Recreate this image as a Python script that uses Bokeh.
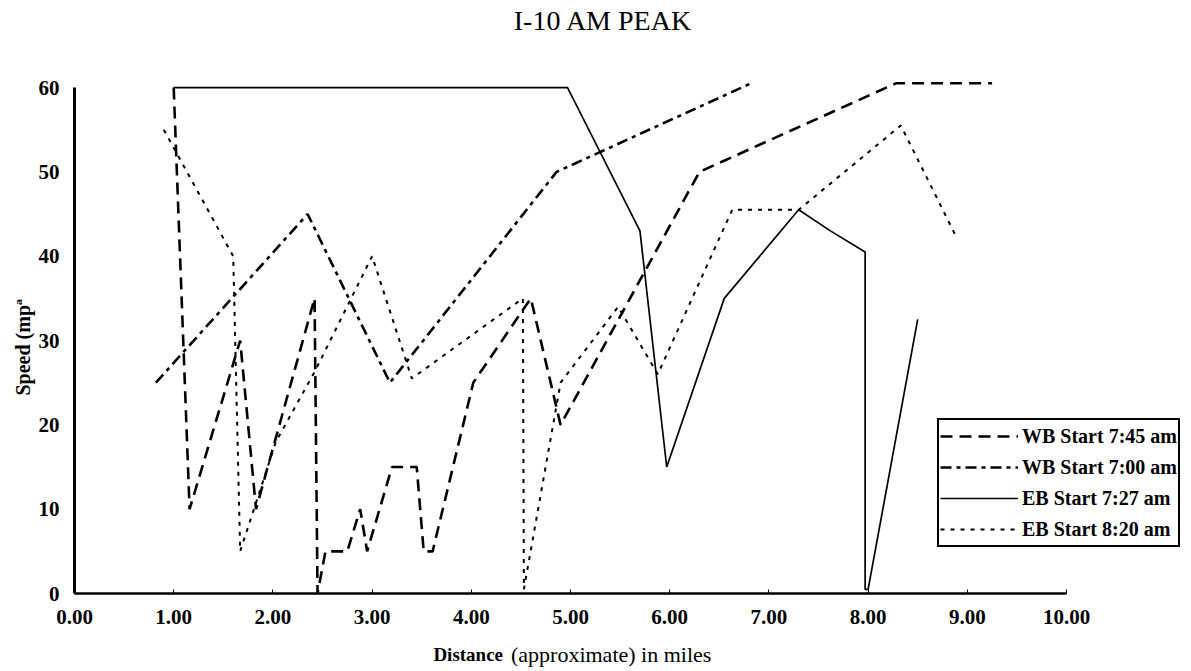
import math
from bokeh.plotting import figure
from bokeh.models import (Legend, LegendItem, FixedTicker, NumeralTickFormatter,
                          Label, Range1d)
from bokeh.embed import file_html
from bokeh.resources import INLINE

# ---- data (distance in miles, speed in mph) ----
wb745_x = [1.00, 1.16, 1.67, 1.83, 2.42, 2.45, 2.53, 2.75, 2.88, 2.95, 3.20, 3.45, 3.52, 3.61, 4.02, 4.60, 4.90, 6.30, 8.28, 9.25]
wb745_y = [60, 10, 30, 10, 35, 0, 5, 5, 10, 5, 15, 15, 5, 5, 25, 35, 20, 50, 60.5, 60.5]

wb700_x = [0.82, 2.35, 3.18, 4.86, 6.82]
wb700_y = [25, 45, 25, 50, 60.5]

eb727_x = [1.00, 4.97, 5.70, 5.97, 6.55, 7.30, 7.62, 7.97, 7.97, 8.00, 8.50]
eb727_y = [60, 60, 43, 15, 35, 45.5, 43, 40.5, 0.5, 0.5, 32.5]

eb820_x = [0.90, 1.60, 1.67, 2.03, 2.43, 3.00, 3.40, 4.52, 4.53, 4.90, 5.48, 5.88, 6.63, 7.30, 8.33, 8.88]
eb820_y = [55, 40, 5, 18, 26.5, 40, 25.5, 35, 0.5, 25, 34, 26, 45.5, 45.5, 55.5, 42.5]

series_names = ["WB Start 7:45 am", "WB Start 7:00 am", "EB Start 7:27 am", "EB Start 8:20 am"]
x_ticks = [0, 1, 2, 3, 4, 5, 6, 7, 8, 9, 10]
y_ticks = [0, 10, 20, 30, 40, 50, 60]

FONT = "Liberation Serif"
W, H = 1190, 670

p = figure(width=W, height=H, output_backend="svg", toolbar_location=None,
           x_range=Range1d(-0.746, 11.25), y_range=Range1d(-9.13, 70.32),
           min_border_left=0, min_border_right=0, min_border_top=0,
           min_border_bottom=0)
p.outline_line_color = None
p.grid.visible = False
p.background_fill_color = "white"
p.border_fill_color = "white"

r1 = p.line(wb745_x, wb745_y, line_color="black", line_width=2.6, line_dash="12 7")
r2 = p.line(wb700_x, wb700_y, line_color="black", line_width=2.6, line_dash="11 5 4 5")
r3 = p.line(eb727_x, eb727_y, line_color="black", line_width=1.7)
r4 = p.line(eb820_x, eb820_y, line_color="black", line_width=2.0, line_dash="4 6")

# axes (placed at the data origin)
xa = p.xaxis[0]
xa.fixed_location = 0
xa.ticker = FixedTicker(ticks=x_ticks)
xa.formatter = NumeralTickFormatter(format="0.00")
xa.bounds = (0, 10)
xa.axis_line_width = 2.5
xa.major_tick_in = 4
xa.major_tick_out = 0
xa.minor_tick_line_color = None
xa.major_label_text_font = FONT
xa.major_label_text_font_style = "bold"
xa.major_label_text_font_size = "21px"
xa.major_label_text_color = "black"
xa.major_label_standoff = 16

ya = p.yaxis[0]
ya.fixed_location = 0
ya.ticker = FixedTicker(ticks=y_ticks)
ya.bounds = (0, 60)
ya.axis_line_width = 3
ya.major_tick_in = 0
ya.major_tick_out = 0
ya.minor_tick_line_color = None
ya.major_label_text_font = FONT
ya.major_label_text_font_style = "bold"
ya.major_label_text_font_size = "21px"
ya.major_label_text_color = "black"
ya.major_label_standoff = 15

# texts
p.add_layout(Label(x=5.33, y=67.95, text="I-10 AM PEAK", text_align="center",
                   text_baseline="middle", text_font=FONT, text_font_size="28px",
                   text_color="black"))
p.add_layout(Label(x=4.32, y=-7.2, text="Distance", text_align="right",
                   text_baseline="middle", text_font=FONT, text_font_style="bold",
                   text_font_size="19px", text_color="black"))
p.add_layout(Label(x=4.40, y=-7.2, text="(approximate) in miles", text_align="left",
                   text_baseline="middle", text_font=FONT, text_font_size="22px",
                   text_color="black"))
p.add_layout(Label(x=-0.524, y=29.2, text="Speed (mp\u00aa", angle=math.pi / 2,
                   text_align="center", text_baseline="middle", text_font=FONT,
                   text_font_style="bold", text_font_size="20px", text_color="black"))

legend = Legend(items=[LegendItem(label=series_names[0], renderers=[r1]),
                       LegendItem(label=series_names[1], renderers=[r2]),
                       LegendItem(label=series_names[2], renderers=[r3]),
                       LegendItem(label=series_names[3], renderers=[r4])],
                location=(937, 123))
legend.border_line_color = "black"
legend.border_line_alpha = 1
legend.border_line_width = 2.5
legend.background_fill_color = "white"
legend.background_fill_alpha = 1
legend.label_text_font = FONT
legend.label_text_font_style = "bold"
legend.label_text_font_size = "20px"
legend.label_text_color = "black"
legend.label_height = 30
legend.glyph_height = 30
legend.glyph_width = 78
legend.label_standoff = 4
legend.spacing = 1
legend.padding = 1
legend.margin = 0
p.add_layout(legend)

open("out.html", "w").write(file_html(p, INLINE))
